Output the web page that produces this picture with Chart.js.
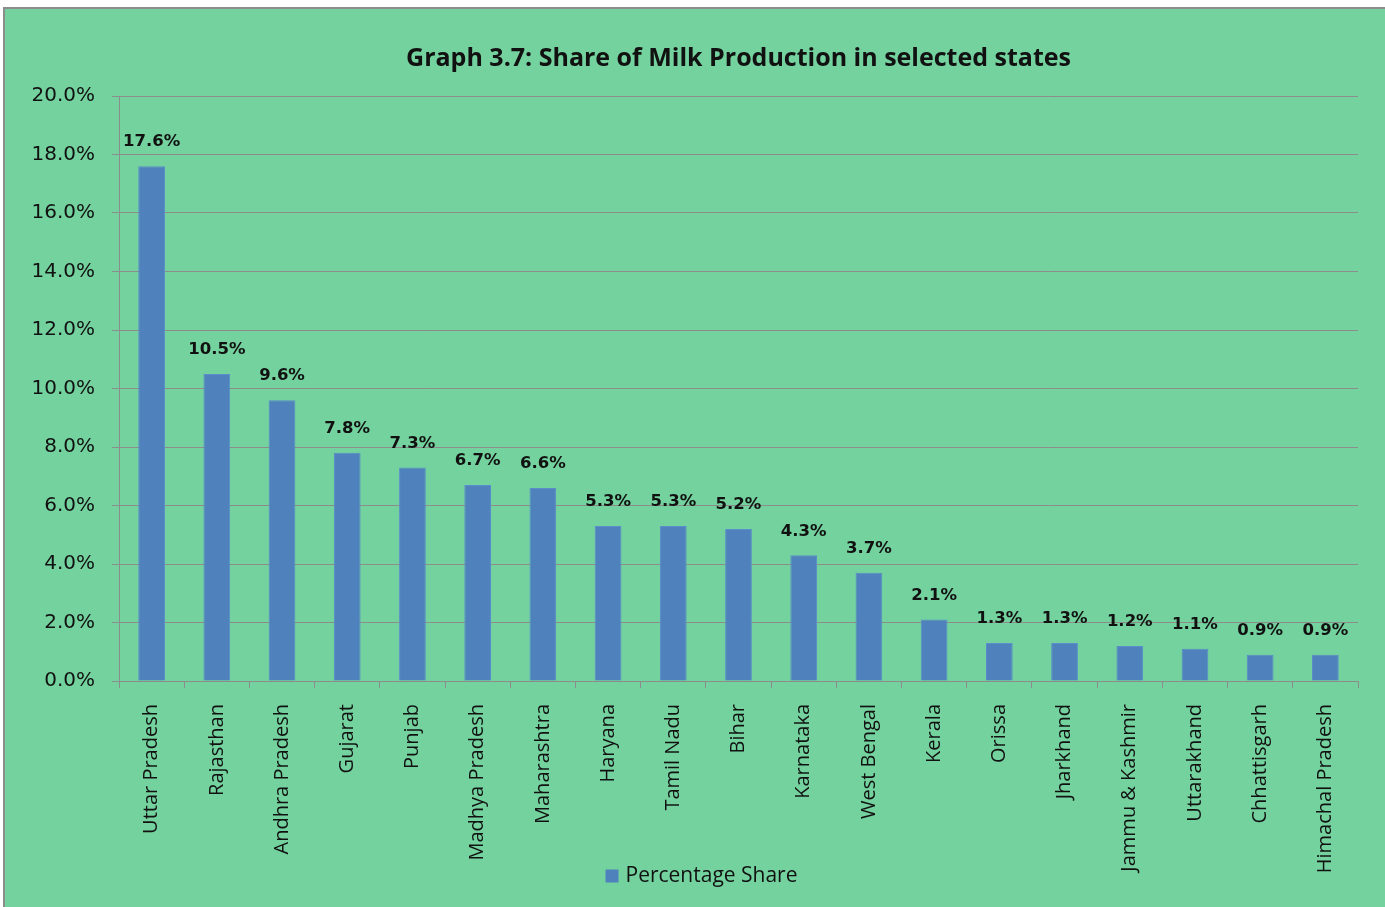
<!DOCTYPE html>
<html>
<head>
<meta charset="utf-8">
<script src="https://cdn.jsdelivr.net/npm/chart.js@4"></script>
<style>
  html, body { margin: 0; padding: 0; background: #fff; }
  #frame {
    position: absolute; left: 3px; top: 7px; width: 1400px; height: 920px;
    background: #73d29e; border-left: 2px solid #8c8c8c; border-top: 2px solid #8c8c8c;
  }
  #wrap { position: absolute; left: 0; top: 0; width: 1385px; height: 907px; }
</style>
</head>
<body>
<div id="frame"></div>
<div id="wrap"><canvas id="milkChart" width="1385" height="907"></canvas></div>
<script>
//state names along the x axis
var states = ['Uttar Pradesh', 'Rajasthan', 'Andhra Pradesh', 'Gujarat', 'Punjab', 'Madhya Pradesh',
    'Maharashtra', 'Haryana', 'Tamil Nadu', 'Bihar', 'Karnataka', 'West Bengal', 'Kerala', 'Orissa',
    'Jharkhand', 'Jammu & Kashmir', 'Uttarakhand', 'Chhattisgarh', 'Himachal Pradesh'];

//percentage share of milk production
var shares = [17.6, 10.5, 9.6, 7.8, 7.3, 6.7, 6.6, 5.3, 5.3, 5.2, 4.3, 3.7, 2.1, 1.3, 1.3, 1.2, 1.1, 0.9, 0.9];

//y axis ticks
var yTicks = [0, 2, 4, 6, 8, 10, 12, 14, 16, 18, 20];

var titleText = 'Graph 3.7: Share of Milk Production in selected states';
var seriesName = 'Percentage Share';
var barColour = '#4f81bd';

//draws the value above every bar
var barLabels = {
    id: 'barLabels',
    afterDatasetsDraw: function(chart) {
        var ctx = chart.ctx;
        var meta = chart.getDatasetMeta(0);
        ctx.save();
        ctx.font = 'bold 16.5px "DejaVu Sans"';
        ctx.fillStyle = '#111';
        ctx.textAlign = 'center';
        ctx.textBaseline = 'middle';
        meta.data.forEach(function(bar, i) {
            ctx.fillText(shares[i].toFixed(1) + '%', bar.x, bar.y - 24);
        });
        ctx.restore();
    }
};

//legend drawn over the bottom of the axis area, so the long labels are not clipped
var bottomLegend = {
    id: 'bottomLegend',
    afterDraw: function(chart) {
        var ctx = chart.ctx;
        ctx.save();
        ctx.font = '21px "Open Sans"';
        var textWidth = ctx.measureText(seriesName).width;
        var total = 13 + 7 + textWidth;
        var x = chart.width / 2 + 9 - total / 2;
        var y = 876;
        ctx.fillStyle = barColour;
        ctx.fillRect(x, y - 6.5, 13, 13);
        ctx.fillStyle = '#111';
        ctx.textBaseline = 'middle';
        ctx.textAlign = 'left';
        ctx.fillText(seriesName, x + 20, y);
        ctx.restore();
    }
};

var ctx = document.getElementById('milkChart').getContext('2d');
var myChart = new Chart(ctx, {
    type: 'bar',
    data: {
        labels: states,
        datasets: [{
            label: seriesName,
            data: shares,
            backgroundColor: barColour,
            borderColor: '#5b8ccb',
            borderWidth: 1,
            categoryPercentage: 1,
            barPercentage: 0.41
        }]
    },
    options: {
        responsive: false,
        animation: false,
        layout: { padding: { left: 0, right: 27, top: 0, bottom: 0 } },
        plugins: {
            title: {
                display: true,
                fullSize: false,
                text: titleText,
                color: '#111',
                font: { family: 'Open Sans', size: 25, weight: 'bold' },
                padding: { top: 44, bottom: 22 }
            },
            legend: { display: false },
            tooltip: { enabled: false }
        },
        scales: {
            x: {
                grid: {
                    display: true,
                    drawOnChartArea: false,
                    drawTicks: true,
                    tickLength: 7,
                    color: '#8c8c8c',
                    offset: true
                },
                border: { display: true, color: '#8c8c8c' },
                ticks: {
                    color: '#111',
                    font: { family: 'Open Sans', size: 20 },
                    minRotation: 90,
                    maxRotation: 90,
                    autoSkip: false,
                    padding: 16
                },
                afterFit: function(scale) { scale.height = 226; }
            },
            y: {
                min: 0,
                max: 20,
                afterBuildTicks: function(scale) {
                    scale.ticks = yTicks.map(function(v) { return { value: v }; });
                },
                grid: {
                    color: '#8c8c8c',
                    tickLength: 7
                },
                border: { display: true, color: '#8c8c8c' },
                ticks: {
                    color: '#111',
                    font: { family: 'DejaVu Sans', size: 20 },
                    padding: 17,
                    callback: function(v) { return v.toFixed(1) + '%'; }
                },
                afterFit: function(scale) { scale.width = 119; }
            }
        }
    },
    plugins: [barLabels, bottomLegend]
});
</script>
</body>
</html>
